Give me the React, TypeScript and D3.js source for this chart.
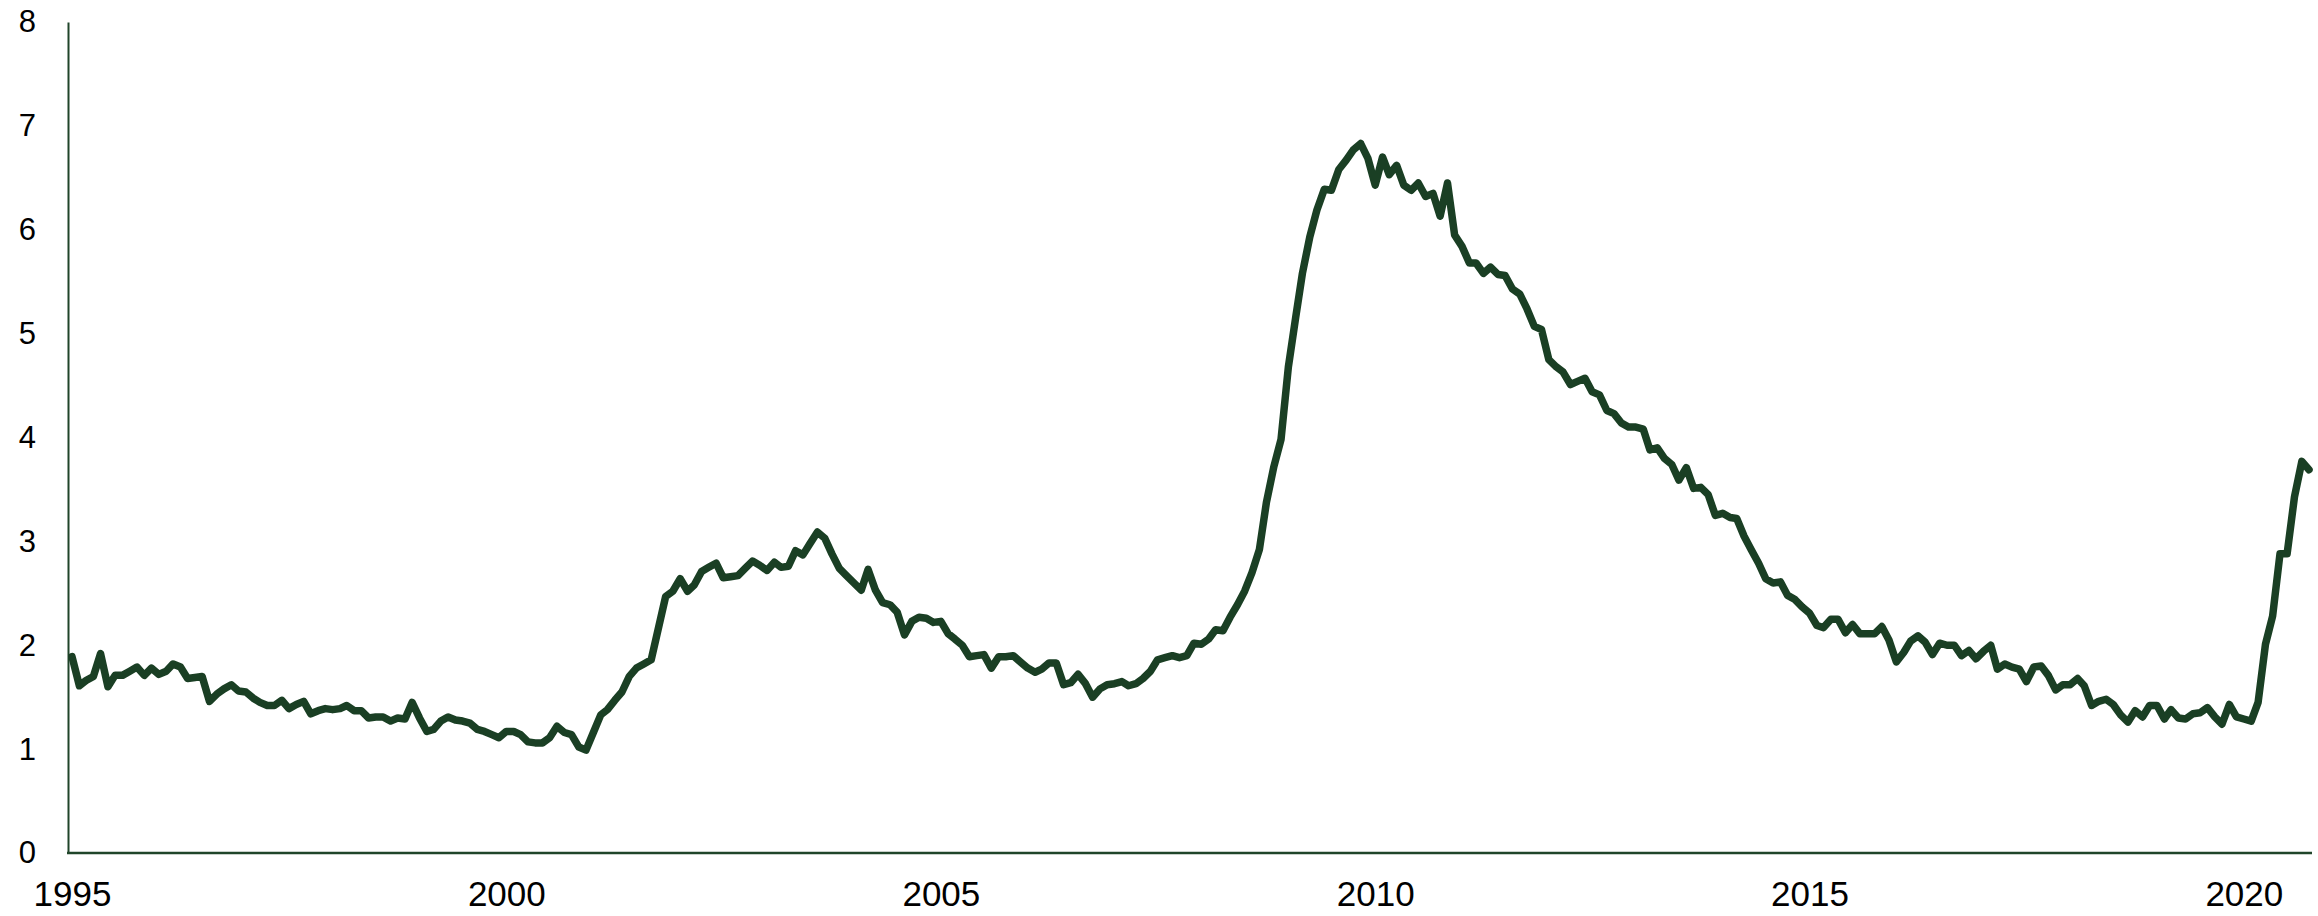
import React, { useEffect, useRef } from 'react';
import * as d3 from 'd3';

// monthly values, Jan 1995 .. Oct 2020
const values1995to1999: number[] = [
  1.89, 1.61, 1.66, 1.70, 1.92, 1.60, 1.71, 1.71, 1.75, 1.79, 1.71, 1.78,
  1.72, 1.75, 1.82, 1.79, 1.68, 1.69, 1.70, 1.46, 1.53, 1.58, 1.62, 1.56,
  1.55, 1.49, 1.45, 1.42, 1.42, 1.47, 1.39, 1.43, 1.46, 1.34, 1.37, 1.39,
  1.38, 1.39, 1.42, 1.37, 1.37, 1.30, 1.31, 1.31, 1.27, 1.30, 1.29, 1.45,
  1.30, 1.17, 1.19, 1.27, 1.31, 1.28, 1.27, 1.25, 1.19, 1.17, 1.14, 1.11,
];
const values2000to2004: number[] = [
  1.17, 1.17, 1.14, 1.07, 1.06, 1.06, 1.11, 1.22, 1.16, 1.14, 1.02, 0.99,
  1.16, 1.33, 1.38, 1.47, 1.55, 1.70, 1.78, 1.82, 1.86, 2.16, 2.47, 2.52,
  2.64, 2.52, 2.58, 2.71, 2.75, 2.79, 2.65, 2.66, 2.67, 2.74, 2.81, 2.77,
  2.72, 2.80, 2.75, 2.76, 2.91, 2.87, 2.98, 3.09, 3.03, 2.88, 2.74, 2.67,
  2.60, 2.53, 2.73, 2.53, 2.41, 2.39, 2.32, 2.10, 2.23, 2.27, 2.26, 2.22,
];
const values2005to2009: number[] = [
  2.23, 2.11, 2.06, 2.00, 1.89, 1.90, 1.91, 1.78, 1.89, 1.89, 1.90, 1.84,
  1.78, 1.74, 1.77, 1.83, 1.83, 1.62, 1.64, 1.72, 1.63, 1.50, 1.58, 1.62,
  1.63, 1.65, 1.61, 1.63, 1.68, 1.75, 1.86, 1.88, 1.90, 1.88, 1.90, 2.02,
  2.01, 2.06, 2.15, 2.14, 2.27, 2.39, 2.52, 2.70, 2.92, 3.38, 3.72, 3.98,
  4.68, 5.16, 5.58, 5.93, 6.19, 6.39, 6.38, 6.58, 6.67, 6.77, 6.83, 6.69,
];
const values2010to2014: number[] = [
  6.43, 6.70, 6.53, 6.62, 6.43, 6.38, 6.45, 6.32, 6.35, 6.13, 6.45, 5.95,
  5.84, 5.68, 5.68, 5.58, 5.64, 5.57, 5.56, 5.43, 5.38, 5.24, 5.07, 5.04,
  4.75, 4.68, 4.63, 4.51, 4.54, 4.57, 4.44, 4.41, 4.26, 4.23, 4.14, 4.10,
  4.10, 4.08, 3.88, 3.90, 3.80, 3.74, 3.59, 3.71, 3.51, 3.52, 3.45, 3.25,
  3.27, 3.23, 3.22, 3.05, 2.92, 2.79, 2.64, 2.60, 2.61, 2.48, 2.44, 2.37,
];
const values2015to2020: number[] = [
  2.31, 2.19, 2.17, 2.25, 2.25, 2.12, 2.20, 2.11, 2.11, 2.11, 2.18, 2.05,
  1.84, 1.93, 2.04, 2.09, 2.03, 1.91, 2.02, 2.00, 2.00, 1.90, 1.95, 1.87,
  1.94, 2.00, 1.77, 1.82, 1.79, 1.77, 1.65, 1.79, 1.80, 1.71, 1.57, 1.62,
  1.62, 1.68, 1.61, 1.42, 1.46, 1.48, 1.43, 1.33, 1.26, 1.37, 1.31, 1.42,
  1.42, 1.29, 1.38, 1.30, 1.29, 1.34, 1.35, 1.40, 1.31, 1.24, 1.43, 1.31,
  1.29, 1.27, 1.45, 2.01, 2.28, 2.88, 2.88, 3.43, 3.77, 3.69,
];

const startYear = 1995;
const startMonth = 0;
const xTickYears: number[] = [1995, 2000, 2005, 2010, 2015, 2020];
const yTicks: number[] = [0, 1, 2, 3, 4, 5, 6, 7, 8];

const D3Chart: React.FC = () => {
  const ref = useRef<SVGSVGElement>(null);

  useEffect(() => {
    if (!ref.current) return;
    const svg = d3.select(ref.current);
    svg.selectAll('*').remove();

    const all = [
      ...values1995to1999,
      ...values2000to2004,
      ...values2005to2009,
      ...values2010to2014,
      ...values2015to2020,
    ];
    const data = all.map((v, i) => ({ date: new Date(startYear, startMonth + i, 1), value: v }));

    const width = 2318;
    const height = 916;
    const axisLeftX = 68;
    const axisRightX = 2312;
    const baseY = 853;
    const font = "'Liberation Sans', Arial, sans-serif";
    const axisColor = '#20452a';
    const lineColor = '#1a3f24';

    const x = d3.scaleTime()
      .domain([data[0].date, data[data.length - 1].date])
      .range([72, 2309]);
    const y = d3.scaleLinear().domain([0, 8]).range([baseY, 22]);

    svg.attr('width', width).attr('height', height);

    // y axis
    const gy = svg.append('g')
      .attr('transform', `translate(${axisLeftX},0)`)
      .call(d3.axisLeft(y).tickValues(yTicks).tickFormat(d3.format('d')).tickSize(0).tickSizeOuter(0).tickPadding(32));
    gy.select('.domain').attr('stroke', axisColor).attr('stroke-width', 2);
    gy.selectAll('text').attr('font-family', font).attr('font-size', 31).attr('fill', '#000');

    // x axis
    const gx = svg.append('g')
      .attr('transform', `translate(0,${baseY})`)
      .call(
        d3.axisBottom(x)
          .tickValues(xTickYears.map((yr) => new Date(yr, 0, 1)))
          .tickFormat((d) => d3.timeFormat('%Y')(d as Date))
          .tickSize(0)
          .tickPadding(28)
      );
    gx.select('.domain').remove();
    gx.selectAll('text').attr('font-family', font).attr('font-size', 35).attr('fill', '#000');
    gx.append('line')
      .attr('x1', axisLeftX - 1)
      .attr('x2', axisRightX)
      .attr('y1', 0)
      .attr('y2', 0)
      .attr('stroke', axisColor)
      .attr('stroke-width', 2.5);

    const line = d3.line<{ date: Date; value: number }>()
      .x((d) => x(d.date))
      .y((d) => y(d.value));

    svg.append('path')
      .datum(data)
      .attr('fill', 'none')
      .attr('stroke', lineColor)
      .attr('stroke-width', 7.5)
      .attr('stroke-linejoin', 'round')
      .attr('stroke-linecap', 'round')
      .attr('d', line);
  }, []);

  return <svg ref={ref} style={{ display: 'block' }}></svg>;
};

export default function App() {
  return (
    <div>
      <style>{'body{margin:0;background:#fff;}'}</style>
      <D3Chart />
    </div>
  );
}
